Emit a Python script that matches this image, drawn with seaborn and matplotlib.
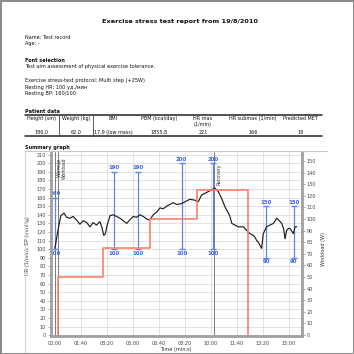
import pandas as pd
import matplotlib
matplotlib.use("Agg")
import matplotlib.pyplot as plt
import seaborn as sns
from matplotlib.lines import Line2D
from matplotlib.patches import Rectangle

# report texts
title = "Exercise stress test report from 19/8/2010"
patient_lines = ["Name: Test record", "Age: -"]
aim_lines = ["Test aim assessment of physical exercise tolerance."]
protocol_lines = ["Exercise stress-test protocol: Multi step (+25W)",
                  "Resting HR: 100 уд./мин",
                  "Resting BP: 160/100"]
table_headers = ["Height (sm)", "Weight (kg)", "BMI", "PBM (kcal/day)",
                 "HR max\n(1/min)", "HR submax (1/min)", "Predicted MET"]
table_values = ["186,0", "62,0", "17,9 (low mass)", "1855,8", "221", "166", "18"]

# heart rate (s, 1/min)
hr_time = [0, 13, 23, 35, 45, 58, 70, 83, 96, 109, 122, 135, 147, 160, 173, 180, 188, 194,
           201, 212, 224, 237, 250, 263, 276, 288, 301, 314, 327, 340, 353, 365, 378, 391,
           404, 416, 430, 442, 455, 468, 487, 500, 519, 538, 551, 564, 577, 590, 603, 615,
           628, 641, 654, 667, 673, 680, 692, 705, 724, 737, 750, 763, 769, 776, 782, 789,
           795, 801, 814, 827, 840, 853, 866, 872, 879, 885, 891, 898, 904, 917, 923, 930]
hr_value = [101, 124, 139, 142, 137, 136, 138, 134, 129, 133, 131, 126, 131, 128, 132, 126, 116, 118,
            128, 139, 140, 138, 136, 133, 130, 134, 138, 137, 140, 138, 135, 134, 140, 143,
            148, 147, 150, 152, 154, 152, 153, 155, 158, 157, 155, 163, 165, 167, 169, 171,
            167, 159, 149, 142, 138, 130, 128, 126, 126, 122, 118, 116, 114, 110, 108, 104,
            101, 118, 126, 128, 130, 136, 132, 130, 124, 112, 122, 124, 124, 118, 126, 126]

# blood pressure measurements
bp_time = [0, 227, 320, 487, 609, 812, 919]
bp_sys = [160, 190, 190, 200, 200, 150, 150]
bp_dia = [100, 100, 100, 100, 100, 90, 90]

# workload steps (W)
load_time = [10, 10, 186, 366, 547, 743]
load_watts = [0, 50, 75, 100, 125, 0]

# stage markers
event_time = [0, 10, 612]
event_label = ["Warmup", "Workload", "Recovery"]

tick_sec = list(range(0, 901, 100))
tick_labels = [f"{s // 60:02d}:{s % 60:02d}" for s in tick_sec]

sns.set_style("white")
plt.rcParams["font.family"] = ["DejaVu Sans"]

W = H = 354
fig = plt.figure(figsize=(3.54, 3.54), dpi=100)


def fx(px):
    return px / W


def fy(py):
    return 1 - py / H


def txt(x, y, s, size=3.65, **kw):
    fig.text(fx(x), fy(y), s, fontsize=size, va="center", color="#111", **kw)


def line(x0, x1, y0, y1, **kw):
    fig.add_artist(Line2D([fx(x0), fx(x1)], [fy(y0), fy(y1)], **kw))


# page frame
fig.add_artist(Rectangle((0, 0), 1, 1, transform=fig.transFigure, fill=False,
                         ec="#8c8c8c", lw=2.2))

# header blocks
txt(180, 21.5, title, size=4.65, ha="center", fontweight="bold")
for i, s in enumerate(patient_lines):
    txt(25, 37.3 + i * 6.5, s)
txt(25, 60, "Font selection", fontweight="bold")
for i, s in enumerate(aim_lines):
    txt(25, 66.7 + i * 6.6, s)
for i, s in enumerate(protocol_lines):
    txt(25, 80.7 + i * 6.6, s)

txt(25, 111, "Patient data", fontweight="bold")
line(25, 322, 114.7, 114.7, color="#222", lw=1.1)
line(25, 322, 136, 136, color="#222", lw=1.1)
for sx in [59.3, 93.3]:
    line(sx, sx, 114.7, 136, color="#444", lw=0.6)
col_x = [41.7, 76, 113.5, 159, 203, 253, 300.5]
for cx, head, val in zip(col_x, table_headers, table_values):
    parts = head.split("\n")
    for j, p in enumerate(parts):
        txt(cx, 118.5 + j * 6.3, p, size=3.5, ha="center")
    txt(cx, 132.3, val, size=3.5, ha="center")

txt(25, 147.5, "Summary graph", fontweight="bold")
line(25, 327, 150.5, 150.5, color="#c8c8c8", lw=0.8)
line(25, 25, 150.5, 352, color="#d4d4d4", lw=0.8)

# summary graph
ax = fig.add_axes([fx(51), fy(336), (302 - 51) / W, (336 - 152) / H])
ax.set_xlim(-15, 950)
ax.set_ylim(-1, 213)
ax.set_xticks(tick_sec)
ax.set_xticklabels(tick_labels)
ax.set_yticks(range(0, 211, 10))
ax.grid(True, color="#dddddd", lw=0.6)
ax.set_axisbelow(True)

label_offsets = [(1.2, -4), (3.4, -4), (2.0, -8)]
for t, lab, off in zip(event_time, event_label, label_offsets):
    ax.axvline(t, color="#7a7a7a", lw=0.7, zorder=2)
    ax.annotate(lab, xy=(t, 1), xycoords=ax.get_xaxis_transform(), xytext=off,
                textcoords="offset points", rotation=90, ha="left", va="top",
                fontsize=3.3, color="#333")

hr_df = pd.DataFrame({"time": hr_time, "hr": hr_value})
sns.lineplot(data=hr_df, x="time", y="hr", ax=ax, color="#1e1e1e", lw=0.85, zorder=4)

bp_color = "#5f84f4"
ax.vlines(bp_time, bp_dia, bp_sys, color=bp_color, lw=0.9, zorder=3)
ax.plot(bp_time, bp_sys, ls="none", marker="_", ms=5, mew=1.0, color=bp_color, zorder=3)
ax.plot(bp_time, bp_dia, ls="none", marker="_", ms=5, mew=1.0, color=bp_color, zorder=3)
for t, s, d in zip(bp_time, bp_sys, bp_dia):
    ax.annotate(str(s), (t, s), xytext=(0, 1.2), textcoords="offset points", ha="center",
                va="bottom", fontsize=3.9, color="#3d63e0", fontweight="bold")
    ax.annotate(str(d), (t, d), xytext=(0, -1.2), textcoords="offset points", ha="center",
                va="top", fontsize=3.9, color="#3d63e0", fontweight="bold")

ax2 = ax.twinx()
load_df = pd.DataFrame({"time": load_time, "watts": load_watts})
sns.lineplot(data=load_df, x="time", y="watts", ax=ax2, drawstyle="steps-post",
             estimator=None, sort=False, color="#f5826e", lw=1.2)
ax2.set_ylim(-0.8, 157.8)
ax2.set_yticks(range(0, 151, 10))

spine_col = "#a0a0a0"
for a in (ax, ax2):
    for side in ("top", "left", "right", "bottom"):
        a.spines[side].set_visible(False)
ax.spines["left"].set_visible(True)
ax.spines["bottom"].set_visible(True)
ax2.spines["right"].set_visible(True)
for sp in (ax.spines["left"], ax.spines["bottom"], ax2.spines["right"]):
    sp.set_color(spine_col)
    sp.set_linewidth(2)
    sp.set_zorder(5)

ax.tick_params(axis="both", labelsize=3.5, labelcolor="#444", length=2, width=0.5,
               color="#888", pad=1.5)
ax2.tick_params(axis="y", labelsize=3.5, labelcolor="#444", length=2, width=0.5,
                color="#888", pad=1.5)

ax.set_xlabel("Time (min:s)", fontsize=3.6, color="#333")
ax.xaxis.set_label_coords((176 - 51) / 251, -0.062)
ax.set_ylabel("HR (1/min); BP (mmHg)", fontsize=3.6, color="#333")
ax.yaxis.set_label_coords((30 - 51) / 251, 0.49)
ax2.set_ylabel("Workload (W)", fontsize=3.6, color="#333")
ax2.yaxis.set_label_coords((321 - 51) / 251, 0.47)

fig.savefig("out.png", dpi=100)
